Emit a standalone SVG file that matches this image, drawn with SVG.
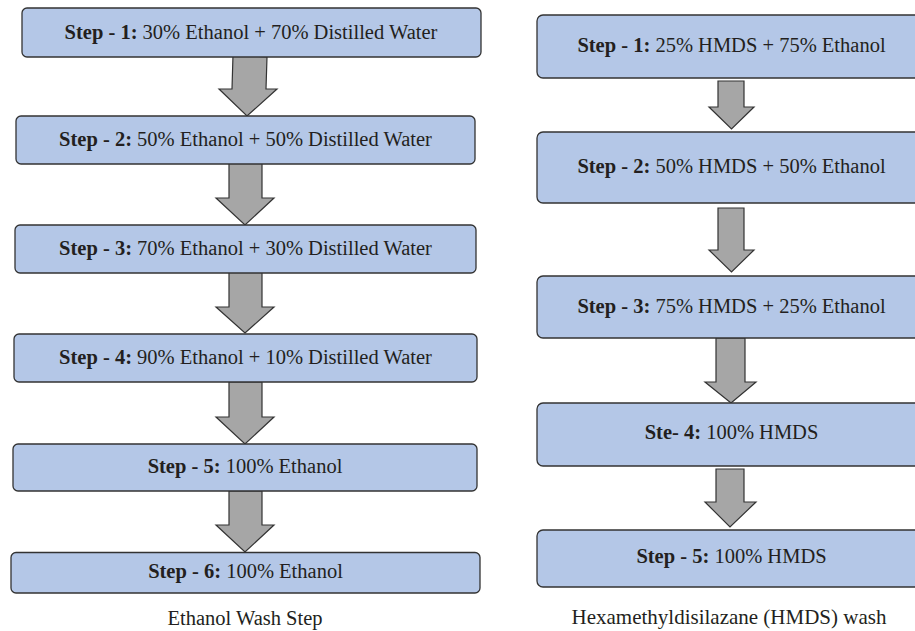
<svg xmlns="http://www.w3.org/2000/svg" width="915" height="631" viewBox="0 0 915 631">
<style>
.box{fill:#b4c7e7;stroke:#333;stroke-width:1.3}
.arr{fill:#a6a6a6;stroke:#333;stroke-width:1.2;stroke-linejoin:miter}
text{font-family:"Liberation Serif","Times New Roman",serif;font-size:20.5px;fill:#231f20;text-anchor:middle}
.b{font-weight:bold}
</style>
<rect width="915" height="631" fill="#fff"/>
<g id="connectors">
<polygon class="arr" points="233,55 267,57 266,89 277,89 247,116 219,89 232,89"/>
<polygon class="arr" points="229,163 262,163 262,198 274,198 245,225 216,198 229,198"/>
<polygon class="arr" points="229,272 262,272 262,307 274,307 245,333 216,307 229,307"/>
<polygon class="arr" points="229,382 262,382 262,417 274,417 245,444 216,417 229,417"/>
<polygon class="arr" points="229,491 262,491 262,525 274,525 245,552 216,525 229,525"/>
<polygon class="arr" points="718,81 744,81 744,107 754,107 731.5,129 709,107 718,107"/>
<polygon class="arr" points="718,208 744,208 744,250 754,250 731.5,272 709,250 718,250"/>
<polygon class="arr" points="716,338 745,338 745,382 756,382 731,403 705,382 716,382"/>
<polygon class="arr" points="716,469 744,469 744,502 756,502 730,527 705,502 716,502"/>
</g>
<g id="e1"><rect class="box" x="22" y="8" width="459" height="49" rx="5"/><text x="251" y="38.5"><tspan class="b">Step - 1:</tspan> 30% Ethanol + 70% Distilled Water</text></g>
<g id="e2"><rect class="box" x="16" y="116" width="459" height="48" rx="5"/><text x="245.5" y="145.5"><tspan class="b">Step - 2:</tspan> 50% Ethanol + 50% Distilled Water</text></g>
<g id="e3"><rect class="box" x="15" y="225" width="461" height="48" rx="5"/><text x="245.5" y="254.5"><tspan class="b">Step - 3:</tspan> 70% Ethanol + 30% Distilled Water</text></g>
<g id="e4"><rect class="box" x="14" y="334" width="463" height="48" rx="5"/><text x="245.5" y="363.5"><tspan class="b">Step - 4:</tspan> 90% Ethanol + 10% Distilled Water</text></g>
<g id="e5"><rect class="box" x="13" y="444" width="464" height="47" rx="5"/><text x="245" y="473.3"><tspan class="b">Step - 5:</tspan> 100% Ethanol</text></g>
<g id="e6"><rect class="box" x="11" y="552.5" width="469" height="40.5" rx="5"/><text x="245.5" y="577.5"><tspan class="b">Step - 6:</tspan> 100% Ethanol</text></g>
<g id="h1"><rect class="box" x="537" y="15" width="390" height="63" rx="6"/><text x="731.5" y="52"><tspan class="b">Step - 1:</tspan> 25% HMDS + 75% Ethanol</text></g>
<g id="h2"><rect class="box" x="537" y="132" width="390" height="71" rx="6"/><text x="731.5" y="173.3"><tspan class="b">Step - 2:</tspan> 50% HMDS + 50% Ethanol</text></g>
<g id="h3"><rect class="box" x="537" y="276" width="390" height="62" rx="6"/><text x="731.5" y="312.5"><tspan class="b">Step - 3:</tspan> 75% HMDS + 25% Ethanol</text></g>
<g id="h4"><rect class="box" x="537" y="403" width="390" height="63" rx="6"/><text x="731.5" y="439.3"><tspan class="b">Ste- 4:</tspan> 100% HMDS</text></g>
<g id="h5"><rect class="box" x="537" y="530" width="390" height="57" rx="6"/><text x="731.5" y="563.3"><tspan class="b">Step - 5:</tspan> 100% HMDS</text></g>
<text id="cap1" x="245" y="625">Ethanol Wash Step</text>
<text id="cap2" x="729" y="623.5" style="font-size:21px">Hexamethyldisilazane (HMDS) wash</text>
</svg>
